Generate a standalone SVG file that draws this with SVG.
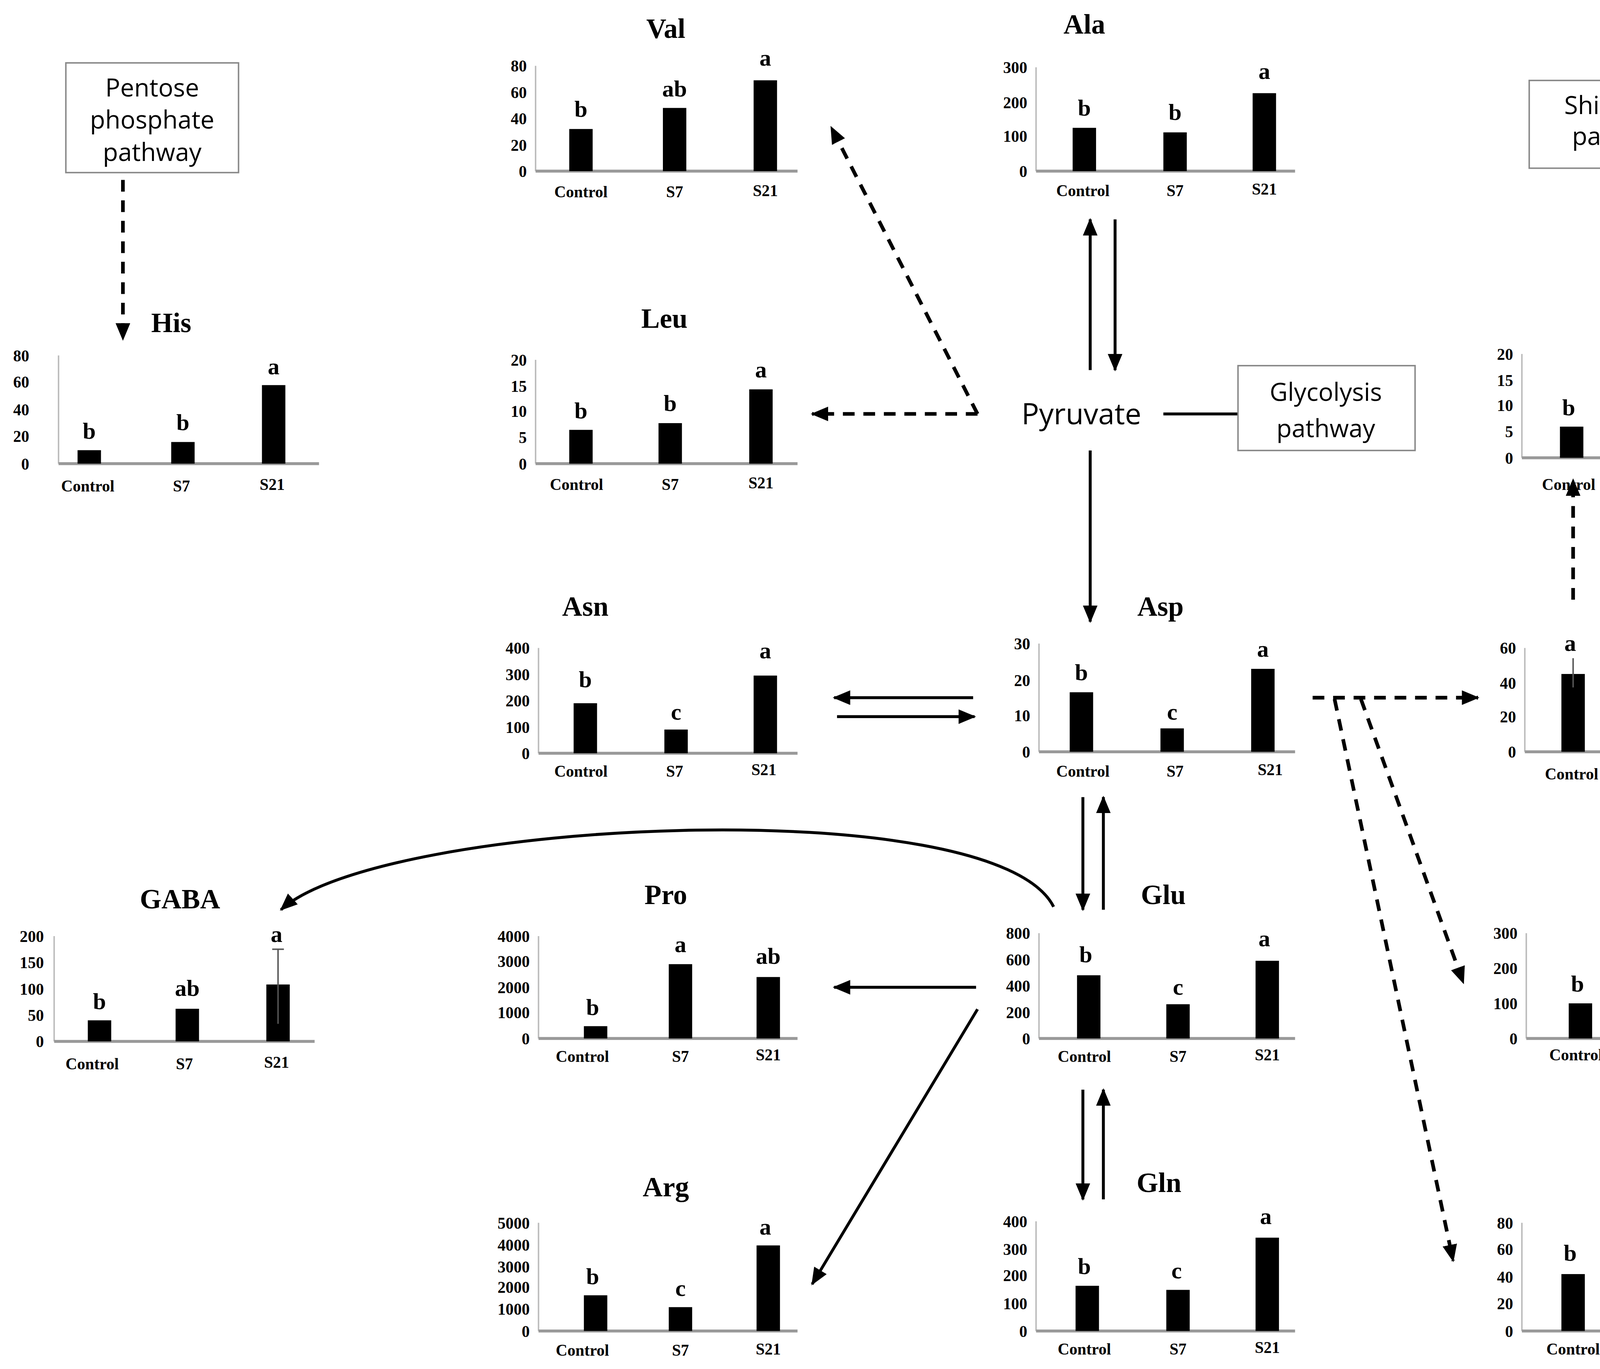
<svg xmlns="http://www.w3.org/2000/svg" width="5874" height="3504" viewBox="0 0 5874 3504">
<defs>
<marker id="ah" markerUnits="userSpaceOnUse" markerWidth="12" markerHeight="10" refX="11" refY="5" orient="auto"><path d="M0,0 L12,5 L0,10 Z" fill="#000"/></marker>
<style>
.t{font-family:"Liberation Serif",serif;font-weight:bold;font-size:19px;text-anchor:middle}
.l{font-family:"Liberation Serif",serif;font-weight:bold;font-size:16px;text-anchor:middle}
.k{font-family:"Liberation Serif",serif;font-weight:bold;font-size:11px;text-anchor:end}
.c{font-family:"Liberation Serif",serif;font-weight:bold;font-size:11px;text-anchor:middle}
.s{font-family:"Open Sans","Liberation Sans",sans-serif;font-size:17px;text-anchor:middle}
.ya{stroke:#bbb;stroke-width:1}
.xa{stroke:#999;stroke-width:2}
.b{fill:#000}
.e{stroke:#555;stroke-width:1}
.d{fill:none;stroke:#000;stroke-width:2.5;stroke-dasharray:8,6;marker-end:url(#ah)}
.a{fill:none;stroke:#000;stroke-width:2;marker-end:url(#ah)}
.box{fill:#fff;stroke:#888;stroke-width:1}
</style>
</defs>
<rect width="5874" height="3504" fill="#fff"/>
<g transform="scale(3.7462,3.7436)">
<g id="connectors">
<path class="d" d="M84,123 L84,232"/>
<path class="d" d="M668,283 L568,87"/>
<path class="d" d="M668,283 L555,283"/>
<path d="M795,283 L846,283" stroke="#000" stroke-width="2"/>
<path class="a" d="M745,253 L745,150"/>
<path class="a" d="M762,150 L762,253"/>
<path class="a" d="M745,308 L745,425"/>
<path class="a" d="M665,477 L570,477"/>
<path class="a" d="M572,490 L666,490"/>
<path class="d" d="M897,477 L1010,477"/>
<path class="d" d="M930,478 L1000,672"/>
<path class="d" d="M912,478 L993,862"/>
<path class="d" d="M1173,88 L1322,88"/>
<path class="d" d="M1230,88 L1328,265"/>
<path class="d" d="M1075,410 L1075,328"/>
<path class="d" d="M1237,672 C1305,640 1305,310 1237,280"/>
<path class="a" d="M1235,477 L1336,477"/>
<path class="a" d="M1410,542 L1410,622"/>
<path class="a" d="M740,545 L740,622"/>
<path class="a" d="M754,622 L754,545"/>
<path class="a" d="M740,745 L740,820"/>
<path class="a" d="M754,820 L754,745"/>
<path class="a" d="M667,675 L570,675"/>
<path class="a" d="M668,690 L555,878"/>
<path class="a" d="M720,620 C680,540 260,560 192,622"/>
</g>
<g id="pentose"><rect class="box" x="45" y="43" width="118" height="75"/><text class="s" x="104" y="66">Pentose</text><text class="s" x="104" y="88">phosphate</text><text class="s" x="104" y="110">pathway</text></g>
<g id="shikimate"><rect class="box" x="1045" y="55" width="126" height="60"/><text class="s" x="1108" y="78">Shikimate</text><text class="s" x="1108" y="99">pathway</text></g>
<g id="glycolysis"><rect class="box" x="846" y="250" width="121" height="58"/><text class="s" x="906" y="274">Glycolysis</text><text class="s" x="906" y="299">pathway</text></g>
<g id="pyruvate"><text class="s" x="739" y="290" style="font-size:20px">Pyruvate</text></g>

<g id="val"><text class="t" x="455" y="26">Val</text>
<text class="k" x="360" y="49">80</text><text class="k" x="360" y="67">60</text><text class="k" x="360" y="85">40</text><text class="k" x="360" y="103">20</text><text class="k" x="360" y="121">0</text>
<line class="ya" x1="366" y1="45" x2="366" y2="117"/><line class="xa" x1="366" y1="117" x2="545" y2="117"/>
<rect class="b" x="389" y="88.2" width="16" height="28.8"/><rect class="b" x="453" y="73.8" width="16" height="43.2"/><rect class="b" x="515" y="54.9" width="16" height="62.1"/>
<text class="l" x="397" y="80">b</text><text class="l" x="461" y="66">ab</text><text class="l" x="523" y="45">a</text>
<text class="c" x="397" y="135">Control</text><text class="c" x="461" y="135">S7</text><text class="c" x="523" y="134">S21</text></g>

<g id="ala"><text class="t" x="741" y="23">Ala</text>
<text class="k" x="702" y="50">300</text><text class="k" x="702" y="74">200</text><text class="k" x="702" y="97">100</text><text class="k" x="702" y="121">0</text>
<line class="ya" x1="708" y1="46" x2="708" y2="117"/><line class="xa" x1="708" y1="117" x2="885" y2="117"/>
<rect class="b" x="733" y="87.4" width="16" height="29.6"/><rect class="b" x="795" y="90.5" width="16" height="26.5"/><rect class="b" x="856" y="63.7" width="16" height="53.3"/>
<text class="l" x="741" y="79">b</text><text class="l" x="803" y="82">b</text><text class="l" x="864" y="54">a</text>
<text class="c" x="740" y="134">Control</text><text class="c" x="803" y="134">S7</text><text class="c" x="864" y="133">S21</text></g>

<g id="phe"><text class="t" x="1459" y="29">Phe</text>
<text class="k" x="1366" y="54">30</text><text class="k" x="1366" y="77">20</text><text class="k" x="1366" y="101">10</text><text class="k" x="1366" y="125">0</text>
<line class="ya" x1="1372" y1="50" x2="1372" y2="121"/><line class="xa" x1="1372" y1="121" x2="1550" y2="121"/>
<rect class="b" x="1395" y="89" width="16" height="32"/><rect class="b" x="1457" y="86.7" width="16" height="34.3"/><rect class="b" x="1519" y="65.4" width="16" height="55.6"/>
<text class="l" x="1403" y="81">b</text><text class="l" x="1465" y="79">b</text><text class="l" x="1527" y="57">a</text>
<text class="c" x="1402" y="140">Control</text><text class="c" x="1465" y="140">S7</text><text class="c" x="1527" y="139">S21</text></g>

<g id="his"><text class="t" x="117" y="227">His</text>
<text class="k" x="20" y="247">80</text><text class="k" x="20" y="265">60</text><text class="k" x="20" y="284">40</text><text class="k" x="20" y="302">20</text><text class="k" x="20" y="321">0</text>
<line class="ya" x1="40" y1="243" x2="40" y2="317"/><line class="xa" x1="40" y1="317" x2="218" y2="317"/>
<rect class="b" x="53" y="307.8" width="16" height="9.2"/><rect class="b" x="117" y="302.2" width="16" height="14.8"/><rect class="b" x="179" y="263.3" width="16" height="53.7"/>
<text class="l" x="61" y="300">b</text><text class="l" x="125" y="294">b</text><text class="l" x="187" y="256">a</text>
<text class="c" x="60" y="336">Control</text><text class="c" x="124" y="336">S7</text><text class="c" x="186" y="335">S21</text></g>

<g id="leu"><text class="t" x="454" y="224">Leu</text>
<text class="k" x="360" y="250">20</text><text class="k" x="360" y="268">15</text><text class="k" x="360" y="285">10</text><text class="k" x="360" y="303">5</text><text class="k" x="360" y="321">0</text>
<line class="ya" x1="366" y1="246" x2="366" y2="317"/><line class="xa" x1="366" y1="317" x2="545" y2="317"/>
<rect class="b" x="389" y="293.9" width="16" height="23.1"/><rect class="b" x="450" y="289.3" width="16" height="27.7"/><rect class="b" x="512" y="266.2" width="16" height="50.8"/>
<text class="l" x="397" y="286">b</text><text class="l" x="458" y="281">b</text><text class="l" x="520" y="258">a</text>
<text class="c" x="394" y="335">Control</text><text class="c" x="458" y="335">S7</text><text class="c" x="520" y="334">S21</text></g>

<g id="ile"><text class="t" x="1129" y="224">Ile</text>
<text class="k" x="1034" y="246">20</text><text class="k" x="1034" y="264">15</text><text class="k" x="1034" y="281">10</text><text class="k" x="1034" y="299">5</text><text class="k" x="1034" y="317">0</text>
<line class="ya" x1="1040" y1="242" x2="1040" y2="313"/><line class="xa" x1="1040" y1="313" x2="1218" y2="313"/>
<rect class="b" x="1066" y="291.7" width="16" height="21.3"/><rect class="b" x="1127" y="287.1" width="16" height="25.9"/><rect class="b" x="1190" y="251.9" width="16" height="61.1"/>
<text class="l" x="1072" y="284">b</text><text class="l" x="1135" y="279">b</text><text class="l" x="1198" y="243">a</text>
<text class="c" x="1072" y="335">Control</text><text class="c" x="1135" y="335">S7</text><text class="c" x="1198" y="334">S21</text></g>

<g id="tyr"><text class="t" x="1459" y="226">Tyr</text>
<text class="k" x="1367" y="247">200</text><text class="k" x="1367" y="265">150</text><text class="k" x="1367" y="282">100</text><text class="k" x="1367" y="300">50</text><text class="k" x="1367" y="318">0</text>
<line class="ya" x1="1373" y1="243" x2="1373" y2="314"/><line class="xa" x1="1373" y1="314" x2="1550" y2="314"/>
<rect class="b" x="1397" y="265.4" width="16" height="48.6"/><rect class="b" x="1460" y="295.5" width="16" height="18.5"/><rect class="b" x="1521" y="253.6" width="16" height="60.4"/>
<line class="e" x1="1405" y1="258" x2="1405" y2="272"/>
<text class="l" x="1405" y="254">b</text><text class="l" x="1468" y="291">c</text><text class="l" x="1529" y="246">a</text>
<text class="c" x="1405" y="335">Control</text><text class="c" x="1468" y="335">S7</text><text class="c" x="1529" y="334">S21</text></g>

<g id="asn"><text class="t" x="400" y="421">Asn</text>
<text class="k" x="362" y="447">400</text><text class="k" x="362" y="465">300</text><text class="k" x="362" y="483">200</text><text class="k" x="362" y="501">100</text><text class="k" x="362" y="519">0</text>
<line class="ya" x1="368" y1="443" x2="368" y2="515"/><line class="xa" x1="368" y1="515" x2="545" y2="515"/>
<rect class="b" x="392" y="480.8" width="16" height="34.2"/><rect class="b" x="454" y="498.8" width="16" height="16.2"/><rect class="b" x="515" y="461.9" width="16" height="53.1"/>
<text class="l" x="400" y="470">b</text><text class="l" x="462" y="492">c</text><text class="l" x="523" y="450">a</text>
<text class="c" x="397" y="531">Control</text><text class="c" x="461" y="531">S7</text><text class="c" x="522" y="530">S21</text></g>

<g id="asp"><text class="t" x="793" y="421">Asp</text>
<text class="k" x="704" y="444">30</text><text class="k" x="704" y="469">20</text><text class="k" x="704" y="493">10</text><text class="k" x="704" y="518">0</text>
<line class="ya" x1="710" y1="440" x2="710" y2="514"/><line class="xa" x1="710" y1="514" x2="885" y2="514"/>
<rect class="b" x="731" y="473.3" width="16" height="40.7"/><rect class="b" x="793" y="498" width="16" height="16"/><rect class="b" x="855" y="457.3" width="16" height="56.7"/>
<text class="l" x="739" y="465">b</text><text class="l" x="801" y="492">c</text><text class="l" x="863" y="449">a</text>
<text class="c" x="740" y="531">Control</text><text class="c" x="803" y="531">S7</text><text class="c" x="868" y="530">S21</text></g>

<g id="thr"><text class="t" x="1131" y="421">Thr</text>
<text class="k" x="1036" y="447">60</text><text class="k" x="1036" y="471">40</text><text class="k" x="1036" y="494">20</text><text class="k" x="1036" y="518">0</text>
<line class="ya" x1="1042" y1="443" x2="1042" y2="514"/><line class="xa" x1="1042" y1="514" x2="1220" y2="514"/>
<rect class="b" x="1067" y="460.8" width="16" height="53.2"/><rect class="b" x="1129" y="501" width="16" height="13"/><rect class="b" x="1192" y="511.6" width="16" height="2.4"/>
<line class="e" x1="1075" y1="450" x2="1075" y2="470"/>
<text class="l" x="1073" y="445">a</text><text class="l" x="1137" y="494">b</text><text class="l" x="1200" y="506">c</text>
<text class="c" x="1074" y="533">Control</text><text class="c" x="1137" y="533">S7</text><text class="c" x="1200" y="532">S21</text></g>

<g id="gly"><text class="t" x="1459" y="423">Gly</text>
<text class="k" x="1368" y="444">200</text><text class="k" x="1368" y="462">150</text><text class="k" x="1368" y="480">100</text><text class="k" x="1368" y="498">50</text><text class="k" x="1368" y="516">0</text>
<line class="ya" x1="1374" y1="440" x2="1374" y2="512"/><line class="xa" x1="1374" y1="512" x2="1550" y2="512"/>
<rect class="b" x="1399" y="467" width="16" height="45"/><rect class="b" x="1460" y="472.4" width="16" height="39.6"/><rect class="b" x="1522" y="451.9" width="16" height="60.1"/>
<text class="l" x="1406" y="460">ab</text><text class="l" x="1468" y="464">b</text><text class="l" x="1530" y="444">a</text>
<text class="c" x="1405" y="531">Control</text><text class="c" x="1468" y="531">S7</text><text class="c" x="1530" y="530">S21</text></g>

<g id="gaba"><text class="t" x="123" y="621">GABA</text>
<text class="k" x="30" y="644">200</text><text class="k" x="30" y="662">150</text><text class="k" x="30" y="680">100</text><text class="k" x="30" y="698">50</text><text class="k" x="30" y="716">0</text>
<line class="ya" x1="37" y1="640" x2="37" y2="712"/><line class="xa" x1="37" y1="712" x2="215" y2="712"/>
<rect class="b" x="60" y="697.6" width="16" height="14.4"/><rect class="b" x="120" y="689.7" width="16" height="22.3"/><rect class="b" x="182" y="673.1" width="16" height="38.9"/>
<line class="e" x1="190" y1="649" x2="190" y2="700"/><line class="e" x1="186" y1="649" x2="194" y2="649"/>
<text class="l" x="68" y="690">b</text><text class="l" x="128" y="681">ab</text><text class="l" x="189" y="644">a</text>
<text class="c" x="63" y="731">Control</text><text class="c" x="126" y="731">S7</text><text class="c" x="189" y="730">S21</text></g>

<g id="pro"><text class="t" x="455" y="618">Pro</text>
<text class="k" x="362" y="644">4000</text><text class="k" x="362" y="661">3000</text><text class="k" x="362" y="679">2000</text><text class="k" x="362" y="696">1000</text><text class="k" x="362" y="714">0</text>
<line class="ya" x1="368" y1="640" x2="368" y2="710"/><line class="xa" x1="368" y1="710" x2="545" y2="710"/>
<rect class="b" x="399" y="701.6" width="16" height="8.4"/><rect class="b" x="457" y="659.2" width="16" height="50.8"/><rect class="b" x="517" y="668" width="16" height="42"/>
<text class="l" x="405" y="694">b</text><text class="l" x="465" y="651">a</text><text class="l" x="525" y="659">ab</text>
<text class="c" x="398" y="726">Control</text><text class="c" x="465" y="726">S7</text><text class="c" x="525" y="725">S21</text></g>

<g id="glu"><text class="t" x="795" y="618">Glu</text>
<text class="k" x="704" y="642">800</text><text class="k" x="704" y="660">600</text><text class="k" x="704" y="678">400</text><text class="k" x="704" y="696">200</text><text class="k" x="704" y="714">0</text>
<line class="ya" x1="710" y1="638" x2="710" y2="710"/><line class="xa" x1="710" y1="710" x2="885" y2="710"/>
<rect class="b" x="736" y="666.8" width="16" height="43.2"/><rect class="b" x="797" y="686.6" width="16" height="23.4"/><rect class="b" x="858" y="656.9" width="16" height="53.1"/>
<text class="l" x="742" y="658">b</text><text class="l" x="805" y="680">c</text><text class="l" x="864" y="647">a</text>
<text class="c" x="741" y="726">Control</text><text class="c" x="805" y="726">S7</text><text class="c" x="866" y="725">S21</text></g>

<g id="met"><text class="t" x="1128" y="618">Met</text>
<text class="k" x="1037" y="642">300</text><text class="k" x="1037" y="666">200</text><text class="k" x="1037" y="690">100</text><text class="k" x="1037" y="714">0</text>
<line class="ya" x1="1043" y1="638" x2="1043" y2="710"/><line class="xa" x1="1043" y1="710" x2="1220" y2="710"/>
<rect class="b" x="1072" y="686" width="16" height="24"/><rect class="b" x="1131" y="660.1" width="16" height="49.9"/><rect class="b" x="1193" y="662" width="16" height="48"/>
<text class="l" x="1078" y="678">b</text><text class="l" x="1139" y="653">a</text><text class="l" x="1201" y="654">a</text>
<text class="c" x="1077" y="725">Control</text><text class="c" x="1139" y="725">S7</text><text class="c" x="1203" y="724">S21</text></g>

<g id="ser"><text class="t" x="1460" y="618">Ser</text>
<text class="k" x="1368" y="642">200</text><text class="k" x="1368" y="660">150</text><text class="k" x="1368" y="678">100</text><text class="k" x="1368" y="696">50</text><text class="k" x="1368" y="714">0</text>
<line class="ya" x1="1374" y1="638" x2="1374" y2="710"/><line class="xa" x1="1374" y1="710" x2="1550" y2="710"/>
<rect class="b" x="1400" y="685.5" width="16" height="24.5"/><rect class="b" x="1461" y="659.6" width="16" height="50.4"/><rect class="b" x="1522" y="674" width="16" height="36"/>
<text class="l" x="1406" y="678">c</text><text class="l" x="1469" y="651">a</text><text class="l" x="1530" y="666">b</text>
<text class="c" x="1406" y="729">Control</text><text class="c" x="1469" y="729">S7</text><text class="c" x="1530" y="728">S21</text></g>

<g id="arg"><text class="t" x="455" y="818">Arg</text>
<text class="k" x="362" y="840">5000</text><text class="k" x="362" y="855">4000</text><text class="k" x="362" y="870">3000</text><text class="k" x="362" y="884">2000</text><text class="k" x="362" y="899">1000</text><text class="k" x="362" y="914">0</text>
<line class="ya" x1="368" y1="836" x2="368" y2="910"/><line class="xa" x1="368" y1="910" x2="545" y2="910"/>
<rect class="b" x="399" y="885.6" width="16" height="24.4"/><rect class="b" x="457" y="893.7" width="16" height="16.3"/><rect class="b" x="517" y="851.5" width="16" height="58.5"/>
<text class="l" x="405" y="878">b</text><text class="l" x="465" y="886">c</text><text class="l" x="523" y="844">a</text>
<text class="c" x="398" y="927">Control</text><text class="c" x="465" y="927">S7</text><text class="c" x="525" y="926">S21</text></g>

<g id="gln"><text class="t" x="792" y="815">Gln</text>
<text class="k" x="702" y="839">400</text><text class="k" x="702" y="858">300</text><text class="k" x="702" y="876">200</text><text class="k" x="702" y="895">100</text><text class="k" x="702" y="914">0</text>
<line class="ya" x1="708" y1="835" x2="708" y2="910"/><line class="xa" x1="708" y1="910" x2="885" y2="910"/>
<rect class="b" x="735" y="879.1" width="16" height="30.9"/><rect class="b" x="797" y="881.9" width="16" height="28.1"/><rect class="b" x="858" y="846.2" width="16" height="63.8"/>
<text class="l" x="741" y="871">b</text><text class="l" x="804" y="874">c</text><text class="l" x="865" y="837">a</text>
<text class="c" x="741" y="926">Control</text><text class="c" x="805" y="926">S7</text><text class="c" x="866" y="925">S21</text></g>

<g id="lys"><text class="t" x="1131" y="815">Lys</text>
<text class="k" x="1034" y="840">80</text><text class="k" x="1034" y="858">60</text><text class="k" x="1034" y="877">40</text><text class="k" x="1034" y="895">20</text><text class="k" x="1034" y="914">0</text>
<line class="ya" x1="1040" y1="836" x2="1040" y2="910"/><line class="xa" x1="1040" y1="910" x2="1220" y2="910"/>
<rect class="b" x="1067" y="871.1" width="16" height="38.9"/><rect class="b" x="1130" y="891.5" width="16" height="18.5"/><rect class="b" x="1191" y="852.6" width="16" height="57.4"/>
<text class="l" x="1073" y="862">b</text><text class="l" x="1136" y="886">c</text><text class="l" x="1199" y="843">a</text>
<text class="c" x="1075" y="926">Control</text><text class="c" x="1138" y="926">S7</text><text class="c" x="1199" y="925">S21</text></g>
</g>
</svg>
